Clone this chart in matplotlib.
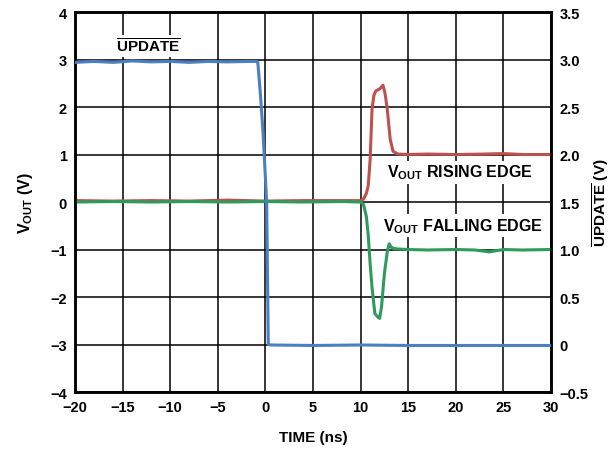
import matplotlib
matplotlib.use("Agg")
import matplotlib.pyplot as plt

plt.rcParams["font.family"] = ["Liberation Sans", "DejaVu Sans"]
plt.rcParams["font.weight"] = "bold"
plt.rcParams["mathtext.fontset"] = "custom"
plt.rcParams["mathtext.rm"] = "Liberation Sans:bold"
plt.rcParams["mathtext.bf"] = "Liberation Sans:bold"
plt.rcParams["mathtext.it"] = "Liberation Sans:bold"

# UPDATE signal (right axis, V)
t_upd = [-20, -18, -16, -14, -12, -10, -8, -6, -4, -2, -1, -0.8, -0.7, -0.5, -0.25,
         0.0, 0.13, 0.22, 0.3, 0.6, 5, 10, 15, 20, 25, 30]
upd = [2.97, 2.98, 2.97, 2.985, 2.975, 2.98, 2.97, 2.98, 2.975, 2.98, 2.98, 2.97, 2.85,
       2.6, 2.23, 1.75, 1.5, 0.7, 0.0, -0.005, -0.01, -0.005, -0.01, -0.01, -0.01, -0.01]

# VOUT rising edge (left axis, V)
t_rise = [-20, -16, -12, -8, -4, 0, 4, 8, 10, 10.3, 10.6, 10.8, 11.0, 11.2, 11.4, 11.6,
          12.0, 12.35, 12.55, 12.8, 13.1, 13.4, 13.9, 15, 17, 20, 23, 25, 27, 30]
rise = [0.03, 0.02, 0.03, 0.02, 0.04, 0.02, 0.03, 0.03, 0.03, 0.06, 0.18, 0.34, 0.9,
        1.96, 2.25, 2.34, 2.38, 2.46, 2.3, 1.96, 1.33, 1.07, 1.01, 1.0, 1.01, 1.0,
        1.01, 1.02, 1.0, 1.0]

# VOUT falling edge (left axis, V)
t_fall = [-20, -16, -12, -8, -4, 0, 4, 8, 10, 10.3, 10.6, 10.8, 11.0, 11.2, 11.5, 11.8,
          12.0, 12.2, 12.5, 12.8, 13.0, 13.2, 13.5, 14, 15, 17, 20, 22, 23.5, 25, 27, 30]
fall = [0.0, 0.01, 0.0, 0.01, 0.0, 0.01, 0.0, 0.01, 0.0, -0.05, -0.3, -0.7, -1.3, -1.8,
        -2.35, -2.42, -2.45, -2.2, -1.5, -1.05, -0.88, -0.95, -0.98, -0.99, -1.0, -1.01,
        -1.0, -1.01, -1.05, -1.0, -1.01, -1.0]

left_ticks = [-4, -3, -2, -1, 0, 1, 2, 3, 4]
right_ticks = [-0.5, 0, 0.5, 1.0, 1.5, 2.0, 2.5, 3.0, 3.5]
right_labels = ["\u22120.5", "0", "0.5", "1.0", "1.5", "2.0", "2.5", "3.0", "3.5"]
x_ticks = [-20, -15, -10, -5, 0, 5, 10, 15, 20, 25, 30]

fig = plt.figure(figsize=(6.16, 4.52), dpi=100)
ax = fig.add_axes([0.1218, 0.1305, 0.7727, 0.8407])
ax2 = ax.twinx()

ax.set_xlim(-20, 30)
ax.set_ylim(-4, 4)
ax2.set_ylim(-0.5, 3.5)
ax.set_xticks(x_ticks)
ax.set_yticks(left_ticks)
ax2.set_yticks(right_ticks)
ax2.set_yticklabels(right_labels)

ax.grid(True, color="black", linewidth=1.1)
for a in (ax, ax2):
    a.tick_params(length=0, labelsize=10.5, pad=6)
    for s in a.spines.values():
        s.set_linewidth(1.8)

ax.plot(t_rise, rise, color="#c0504d", linewidth=2.2, zorder=3)
ax.plot(t_fall, fall, color="#2e9b5c", linewidth=2.2, zorder=4)
ax2.plot(t_upd, upd, color="#4a7fc3", linewidth=2.2, zorder=5)

ax.set_xlabel("TIME (ns)", fontsize=11, fontweight="bold", labelpad=11)
ax.set_ylabel(r"V$_{\mathrm{OUT}}$ (V)", fontsize=11.5, fontweight="bold", labelpad=11)
ax2.set_ylabel(r"$\overline{\mathrm{UPDATE}}$ (V)", fontsize=11, fontweight="bold",
               rotation=90, labelpad=1)

box = dict(facecolor="white", edgecolor="none", pad=1.5)
ax.text(-12.3, 3.28, r"$\overline{\mathrm{UPDATE}}$", fontsize=11, ha="center",
        va="center", bbox=box, zorder=6)
ax.text(12.8, 0.63, r"V$_{\mathrm{OUT}}$ RISING EDGE", fontsize=11.5, ha="left",
        va="center", bbox=box, zorder=6)
ax.text(12.3, -0.5, r"V$_{\mathrm{OUT}}$ FALLING EDGE", fontsize=11.5, ha="left",
        va="center", bbox=box, zorder=6)

ax2.set_zorder(ax.get_zorder() + 1)
ax2.patch.set_visible(False)

fig.savefig("out.png", dpi=100)
